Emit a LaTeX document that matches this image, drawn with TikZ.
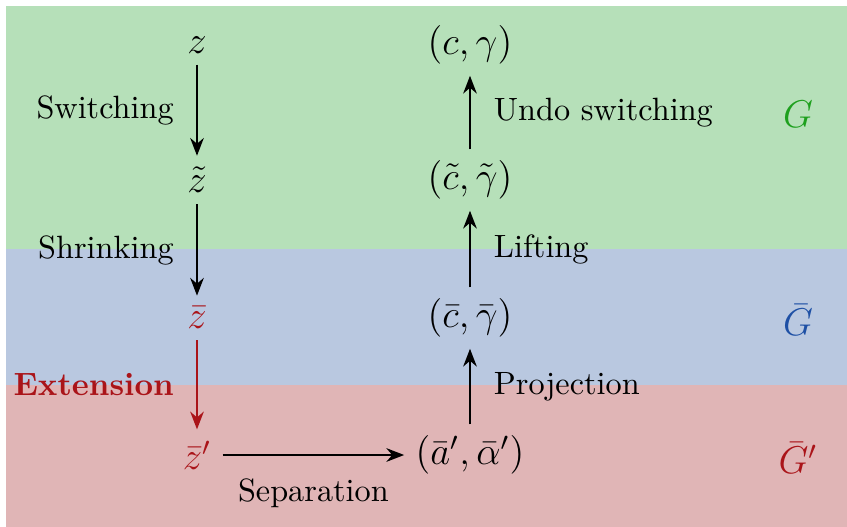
\documentclass[tikz,border=0pt]{standalone}
\usetikzlibrary{arrows.meta}
\definecolor{bgG}{RGB}{182,224,185}
\definecolor{bgB}{RGB}{185,200,224}
\definecolor{bgR}{RGB}{224,181,182}
\definecolor{cG}{RGB}{30,160,30}
\definecolor{cB}{RGB}{30,80,165}
\definecolor{cR}{RGB}{170,20,25}
\begin{document}
\begin{tikzpicture}[x=0.31pt,y=-0.31pt,
  m/.style={font=\large},
  lbl/.style={font=\normalsize},
  arr/.style={-{Stealth[length=5.5pt,width=4.2pt]}, line width=0.8pt}]
\useasboundingbox (0,0) rectangle (847,527);
\fill[bgG] (6,6) rectangle (847,249);
\fill[bgB] (6,249) rectangle (847,385);
\fill[bgR] (6,385) rectangle (847,527);
% left column
\node[m] (z) at (197,45) {$z$};
\node[m] (zt) at (197,180) {$\tilde z$};
\node[m, text=cR] (zb) at (197,318) {$\bar z$};
\node[m, text=cR] (zp) at (197,455) {$\bar z'$};
% right column
\node[m] (cg) at (470,45) {$(c,\gamma)$};
\node[m] (cgt) at (470,180) {$(\tilde c,\tilde\gamma)$};
\node[m] (cgb) at (470,318) {$(\bar c,\bar\gamma)$};
\node[m] (aa) at (470,455) {$(\bar a',\bar\alpha')$};
% region labels
\node[m, text=cG] (G) at (798,114) {$G$};
\node[m, text=cB] (Gb) at (798,320) {$\bar G$};
\node[m, text=cR] (Gp) at (798,458) {$\bar G'$};
% arrows
\draw[arr] (z) -- node[lbl, left=3.5pt] {Switching} (zt);
\draw[arr] (zt) -- node[lbl, left=3.5pt] {Shrinking} (zb);
\draw[arr, draw=cR, fill=cR] (zb) -- node[lbl, left=3.5pt, text=cR, font=\bfseries] {Extension} (zp);
\draw[arr] (zp) -- node[lbl, below=3.5pt] {Separation} (aa);
\draw[arr] (aa) -- node[lbl, right=3.7pt] {Projection} (cgb);
\draw[arr] (cgb) -- node[lbl, right=3.7pt] {Lifting} (cgt);
\draw[arr] (cgt) -- node[lbl, right=3.7pt] {Undo switching} (cg);
\end{tikzpicture}
\end{document}
